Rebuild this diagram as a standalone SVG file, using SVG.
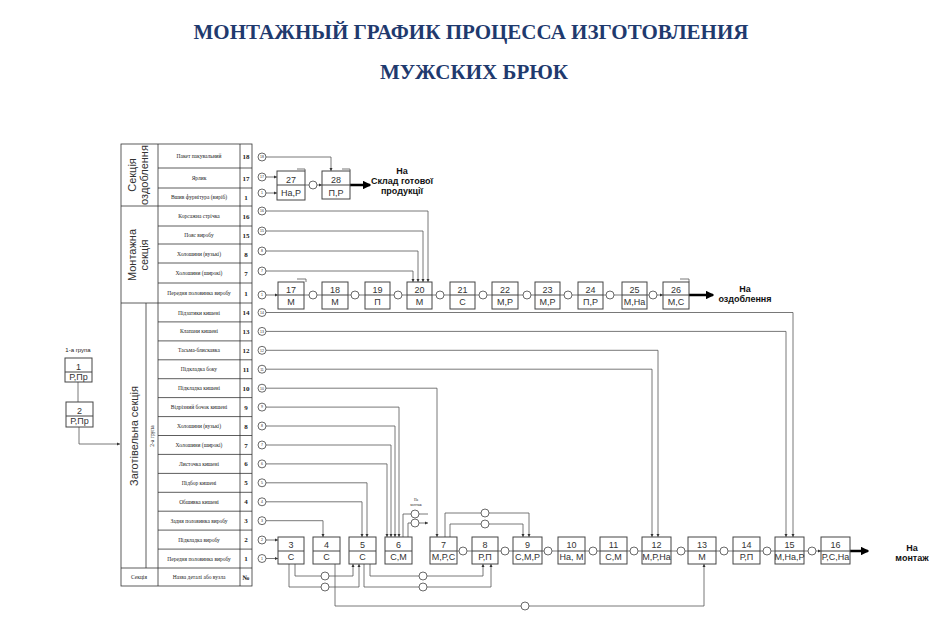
<svg xmlns="http://www.w3.org/2000/svg" width="935" height="629" viewBox="0 0 935 629">
<style>
.t{font-family:"Liberation Serif",serif;font-weight:bold;font-size:21px;fill:#1f3a6e;text-anchor:middle}
.cell{fill:none;stroke:#333;stroke-width:0.8}
.rt{font-family:"Liberation Serif",serif;font-size:5.5px;fill:#222;text-anchor:middle}
.rn{font-family:"Liberation Serif",serif;font-size:7px;font-weight:bold;fill:#222;text-anchor:middle}
.sec{font-family:"Liberation Sans",sans-serif;font-size:11px;fill:#333;text-anchor:middle}
.bx{fill:#fff;stroke:#444;stroke-width:1}
.bt{font-family:"Liberation Sans",sans-serif;font-size:9px;fill:#333;text-anchor:middle}
.c{fill:#fff;stroke:#444;stroke-width:0.8}
.ct{font-family:"Liberation Sans",sans-serif;font-size:3.5px;fill:#333;text-anchor:middle}
.ln{fill:none;stroke:#555;stroke-width:0.8}
.th{fill:none;stroke:#000;stroke-width:2.5}
.lbl{font-family:"Liberation Sans",sans-serif;font-size:9px;font-weight:bold;fill:#111;text-anchor:middle}
</style>
<defs>
<marker id="a" viewBox="0 0 6 6" refX="6" refY="3" markerWidth="4" markerHeight="4" orient="auto"><path d="M0,0L6,3L0,6z" fill="#333"/></marker>
<marker id="A" viewBox="0 0 6 6" refX="5" refY="3" markerWidth="3.5" markerHeight="3.5" orient="auto"><path d="M0,0L6,3L0,6z" fill="#000"/></marker>
</defs>
<rect width="935" height="629" fill="#fff"/>
<text class="t" x="471" y="39">МОНТАЖНЫЙ ГРАФИК ПРОЦЕССА ИЗГОТОВЛЕНИЯ</text>
<text class="t" x="474" y="79">МУЖСКИХ БРЮК</text>

<g id="table">
<rect class="cell" x="121" y="144" width="131" height="442"/>
<line class="cell" x1="158" y1="144" x2="158" y2="586"/>
<line class="cell" x1="240" y1="144" x2="240" y2="586"/>
<line class="cell" x1="121" y1="206" x2="158" y2="206"/>
<line class="cell" x1="121" y1="303" x2="158" y2="303"/>
<line class="cell" x1="146" y1="303" x2="146" y2="568"/>
<line class="cell" x1="121" y1="568" x2="252" y2="568"/>
<g class="cell">
<line x1="158" y1="168" x2="252" y2="168"/><line x1="158" y1="188" x2="252" y2="188"/><line x1="158" y1="206" x2="252" y2="206"/>
<line x1="158" y1="226" x2="252" y2="226"/><line x1="158" y1="244" x2="252" y2="244"/><line x1="158" y1="263" x2="252" y2="263"/><line x1="158" y1="283" x2="252" y2="283"/><line x1="158" y1="303" x2="252" y2="303"/>
<line x1="158" y1="321.9" x2="252" y2="321.9"/><line x1="158" y1="340.9" x2="252" y2="340.9"/><line x1="158" y1="359.8" x2="252" y2="359.8"/><line x1="158" y1="378.7" x2="252" y2="378.7"/><line x1="158" y1="397.6" x2="252" y2="397.6"/><line x1="158" y1="416.6" x2="252" y2="416.6"/><line x1="158" y1="435.5" x2="252" y2="435.5"/><line x1="158" y1="454.4" x2="252" y2="454.4"/><line x1="158" y1="473.4" x2="252" y2="473.4"/><line x1="158" y1="492.3" x2="252" y2="492.3"/><line x1="158" y1="511.2" x2="252" y2="511.2"/><line x1="158" y1="530.1" x2="252" y2="530.1"/><line x1="158" y1="549.1" x2="252" y2="549.1"/>
</g>
<text class="sec" transform="translate(136,175) rotate(-90)">Секція</text>
<text class="sec" transform="translate(148,175) rotate(-90)">оздоблення</text>
<text class="sec" transform="translate(136,255) rotate(-90)">Монтажна</text>
<text class="sec" transform="translate(148,255) rotate(-90)">секція</text>
<text class="sec" transform="translate(138,436) rotate(-90)">Заготівельна секція</text>
<text class="rt" transform="translate(154,436) rotate(-90)">2-а група</text>
<g class="rt">
<text x="199" y="158">Пакет пакувальний</text><text x="199" y="180">Ярлик</text><text x="199" y="199">Вшив фурнітура (виріб)</text>
<text x="199" y="218">Корсажна стрічка</text><text x="199" y="237">Пояс виробу</text><text x="199" y="256">Холошини (вузькі)</text><text x="199" y="275">Холошини (широкі)</text><text x="199" y="295">Передня половинка виробу</text>
<text x="199" y="314.5">Підзатики кишені</text><text x="199" y="333.4">Клапани кишені</text><text x="199" y="352.3">Тасьма-блискавка</text><text x="199" y="371.2">Підкладка боку</text><text x="199" y="390.2">Підкладка кишені</text><text x="199" y="409.1">Відрізний бочок кишені</text><text x="199" y="428">Холошини (вузькі)</text><text x="199" y="447">Холошини (широкі)</text><text x="199" y="465.9">Листочка кишені</text><text x="199" y="484.8">Підбор кишені</text><text x="199" y="503.8">Обшивка кишені</text><text x="199" y="522.7">Задня половинка виробу</text><text x="199" y="541.6">Підкладка виробу</text><text x="199" y="560.5">Передня половинка виробу</text>
<text x="139" y="579">Секція</text><text x="199" y="579">Назва деталі або вузла</text>
</g>
<g class="rn">
<text x="246" y="159">18</text><text x="246" y="181">17</text><text x="246" y="200">1</text>
<text x="246" y="219">16</text><text x="246" y="238">15</text><text x="246" y="257">8</text><text x="246" y="276">7</text><text x="246" y="296">1</text>
<text x="246" y="315">14</text><text x="246" y="334">13</text><text x="246" y="353">12</text><text x="246" y="372">11</text><text x="246" y="391">10</text><text x="246" y="410">9</text><text x="246" y="429">8</text><text x="246" y="448">7</text><text x="246" y="466">6</text><text x="246" y="485">5</text><text x="246" y="504">4</text><text x="246" y="523">3</text><text x="246" y="542">2</text><text x="246" y="561">1</text><text x="246" y="580">№</text>
</g>
</g>

<g id="connectors">
<path class="ln" d="M266,157H331V171" marker-end="url(#a)"/>
<path class="ln" d="M266,177H277" marker-end="url(#a)"/>
<path class="ln" d="M266,193H277" marker-end="url(#a)"/>
<path class="ln" d="M305,185H309M317,185H322" marker-end="url(#a)"/>
<path class="ln" d="M297,169H305V171"/>
<path class="ln" d="M342,169H350V171"/>
<path class="th" d="M350,185H370" marker-end="url(#A)"/>
<path class="ln" d="M266,211H428V282" marker-end="url(#a)"/>
<path class="ln" d="M266,231H423V282" marker-end="url(#a)"/>
<path class="ln" d="M266,251H418V282" marker-end="url(#a)"/>
<path class="ln" d="M266,271H413V282" marker-end="url(#a)"/>
<path class="ln" d="M266,295H278" marker-end="url(#a)"/>
<path class="ln" d="M297,279H306V282"/>
<path class="ln" d="M680,279H689V282"/>
<path class="ln" d="M304,295H309M317,295H322M348,295H351M359,295H365M390,295H394M402,295H407M432,295H436M444,295H450M475,295H479M487,295H492M518,295H523M531,295H535M560,295H564M572,295H578M603,295H606M614,295H622M647,295H649M657,295H663" marker-end="url(#a)"/>
<path class="th" d="M689,295H713" marker-end="url(#A)"/>
<path class="ln" d="M266,312.5H793V537" marker-end="url(#a)"/>
<path class="ln" d="M266,331.4H786V537" marker-end="url(#a)"/>
<path class="ln" d="M266,350.3H658V537" marker-end="url(#a)"/>
<path class="ln" d="M266,369.2H652V537" marker-end="url(#a)"/>
<path class="ln" d="M266,388.2H437V537" marker-end="url(#a)"/>
<path class="ln" d="M266,407.1H399V537" marker-end="url(#a)"/>
<path class="ln" d="M266,426H395V537" marker-end="url(#a)"/>
<path class="ln" d="M266,445H391V537" marker-end="url(#a)"/>
<path class="ln" d="M266,463.9H387V537" marker-end="url(#a)"/>
<path class="ln" d="M266,482.8H367V537" marker-end="url(#a)"/>
<path class="ln" d="M266,501.8H362V537" marker-end="url(#a)"/>
<path class="ln" d="M266,520.7H323V537" marker-end="url(#a)"/>
<path class="ln" d="M266,540H278" marker-end="url(#a)"/>
<path class="ln" d="M266,558.5H278" marker-end="url(#a)"/>
<path class="ln" d="M403,537V514H411M408,537V523H411"/>
<path class="ln" d="M419,514H428M419,523H428" marker-end="url(#a)"/>
<path class="ln" d="M445,537V513H481M489,513H529V537" marker-end="url(#a)"/>
<path class="ln" d="M450,537V524H481M489,524H523V537" marker-end="url(#a)"/>
<path class="ln" d="M457,551H459M467,551H472M498,551H501M509,551H513M542,551H544M552,551H558M585,551H589M597,551H600M627,551H630M638,551H642M671,551H677M685,551H688M716,551H720M728,551H733M760,551H763M771,551H775M804,551H808M816,551H821" marker-end="url(#a)"/>
<path class="th" d="M850,551H868" marker-end="url(#A)"/>
<path class="ln" d="M295,564V576H321M329,576H353V564" marker-end="url(#a)"/>
<path class="ln" d="M289,564V587H321M329,587H359V564" marker-end="url(#a)"/>
<path class="ln" d="M370,564V576H419M427,576H483V564" marker-end="url(#a)"/>
<path class="ln" d="M364,564V587H419M427,587H491V564" marker-end="url(#a)"/>
<path class="ln" d="M335,564V606H521M529,606H704V564" marker-end="url(#a)"/>
<path class="ln" d="M78,382V402"/>
<path class="ln" d="M79,427V444H120" marker-end="url(#a)"/>
</g>

<g id="circles">
<g class="c">
<circle cx="262" cy="157" r="4"/><circle cx="262" cy="177" r="4"/><circle cx="262" cy="193" r="4"/>
<circle cx="262" cy="211" r="4"/><circle cx="262" cy="231" r="4"/><circle cx="262" cy="251" r="4"/><circle cx="262" cy="271" r="4"/><circle cx="262" cy="295" r="4"/>
<circle cx="262" cy="312.5" r="4"/><circle cx="262" cy="331.4" r="4"/><circle cx="262" cy="350.3" r="4"/><circle cx="262" cy="369.2" r="4"/><circle cx="262" cy="388.2" r="4"/><circle cx="262" cy="407.1" r="4"/><circle cx="262" cy="426" r="4"/><circle cx="262" cy="445" r="4"/><circle cx="262" cy="463.9" r="4"/><circle cx="262" cy="482.8" r="4"/><circle cx="262" cy="501.8" r="4"/><circle cx="262" cy="520.7" r="4"/><circle cx="262" cy="540" r="4"/><circle cx="262" cy="558.5" r="4"/>
<circle cx="313" cy="185" r="4"/>
<circle cx="313" cy="295" r="4"/><circle cx="355" cy="295" r="4"/><circle cx="398" cy="295" r="4"/><circle cx="440" cy="295" r="4"/><circle cx="483" cy="295" r="4"/><circle cx="527" cy="295" r="4"/><circle cx="568" cy="295" r="4"/><circle cx="610" cy="295" r="4"/><circle cx="653" cy="295" r="4"/>
<circle cx="415" cy="514" r="4"/><circle cx="415" cy="523" r="4"/>
<circle cx="485" cy="513" r="4"/><circle cx="485" cy="524" r="4"/>
<circle cx="463" cy="551" r="4"/><circle cx="505" cy="551" r="4"/><circle cx="548" cy="551" r="4"/><circle cx="593" cy="551" r="4"/><circle cx="634" cy="551" r="4"/><circle cx="681" cy="551" r="4"/><circle cx="724" cy="551" r="4"/><circle cx="767" cy="551" r="4"/><circle cx="812" cy="551" r="4"/>
<circle cx="325" cy="576" r="4"/><circle cx="325" cy="587" r="4"/><circle cx="423" cy="576" r="4"/><circle cx="423" cy="587" r="4"/><circle cx="525" cy="606" r="4"/>
</g>
<g class="ct">
<text x="262" y="158.3">18</text><text x="262" y="178.3">17</text><text x="262" y="194.3">1</text>
<text x="262" y="212.3">16</text><text x="262" y="232.3">15</text><text x="262" y="252.3">8</text><text x="262" y="272.3">7</text><text x="262" y="296.3">1</text>
<text x="262" y="313.8">14</text><text x="262" y="332.7">13</text><text x="262" y="351.6">12</text><text x="262" y="370.5">11</text><text x="262" y="389.5">10</text><text x="262" y="408.4">9</text><text x="262" y="427.3">8</text><text x="262" y="446.3">7</text><text x="262" y="465.2">6</text><text x="262" y="484.1">5</text><text x="262" y="503.1">4</text><text x="262" y="522">3</text><text x="262" y="541.3">2</text><text x="262" y="559.8">1</text>
</g>
<text class="rt" x="416" y="501" style="font-size:3.5px">На</text>
<text class="rt" x="416" y="506" style="font-size:3.5px">монтаж</text>
</g>

<g id="n1"><rect class="bx" x="65" y="358" width="27" height="24"/><line class="bx" x1="65" y1="372" x2="92" y2="372"/><text class="bt" x="78.5" y="370">1</text><text class="bt" x="78.5" y="380">Р,Пр</text></g>
<g id="n2"><rect class="bx" x="66" y="402" width="27" height="25"/><line class="bx" x1="66" y1="416" x2="93" y2="416"/><text class="bt" x="79.5" y="414">2</text><text class="bt" x="79.5" y="424">Р,Пр</text></g>
<text class="rt" x="78" y="352" style="font-size:6px;font-family:'Liberation Sans',sans-serif">1-а група</text>

<g id="n27"><rect class="bx" x="277" y="171" width="28" height="29"/><line class="bx" x1="277" y1="185" x2="305" y2="185"/><text class="bt" x="291" y="183">27</text><text class="bt" x="291" y="196">На,Р</text></g>
<g id="n28"><rect class="bx" x="322" y="171" width="28" height="28"/><line class="bx" x1="322" y1="185" x2="350" y2="185"/><text class="bt" x="336" y="183">28</text><text class="bt" x="336" y="196">П,Р</text></g>
<text class="lbl" x="402" y="174">На</text><text class="lbl" x="402" y="184">Склад готової</text><text class="lbl" x="402" y="194">продукції</text>

<g id="n17"><rect class="bx" x="278" y="282" width="26" height="27"/><line class="bx" x1="278" y1="295" x2="304" y2="295"/><text class="bt" x="291" y="293">17</text><text class="bt" x="291" y="305">М</text></g>
<g id="n18"><rect class="bx" x="322" y="282" width="26" height="27"/><line class="bx" x1="322" y1="295" x2="348" y2="295"/><text class="bt" x="335" y="293">18</text><text class="bt" x="335" y="305">М</text></g>
<g id="n19"><rect class="bx" x="365" y="282" width="25" height="27"/><line class="bx" x1="365" y1="295" x2="390" y2="295"/><text class="bt" x="377.5" y="293">19</text><text class="bt" x="377.5" y="305">П</text></g>
<g id="n20"><rect class="bx" x="407" y="282" width="25" height="27"/><line class="bx" x1="407" y1="295" x2="432" y2="295"/><text class="bt" x="419.5" y="293">20</text><text class="bt" x="419.5" y="305">М</text></g>
<g id="n21"><rect class="bx" x="450" y="282" width="25" height="27"/><line class="bx" x1="450" y1="295" x2="475" y2="295"/><text class="bt" x="462.5" y="293">21</text><text class="bt" x="462.5" y="305">С</text></g>
<g id="n22"><rect class="bx" x="492" y="282" width="26" height="27"/><line class="bx" x1="492" y1="295" x2="518" y2="295"/><text class="bt" x="505" y="293">22</text><text class="bt" x="505" y="305">М,Р</text></g>
<g id="n23"><rect class="bx" x="535" y="282" width="25" height="27"/><line class="bx" x1="535" y1="295" x2="560" y2="295"/><text class="bt" x="547.5" y="293">23</text><text class="bt" x="547.5" y="305">М,Р</text></g>
<g id="n24"><rect class="bx" x="578" y="282" width="25" height="27"/><line class="bx" x1="578" y1="295" x2="603" y2="295"/><text class="bt" x="590.5" y="293">24</text><text class="bt" x="590.5" y="305">П,Р</text></g>
<g id="n25"><rect class="bx" x="622" y="282" width="25" height="27"/><line class="bx" x1="622" y1="295" x2="647" y2="295"/><text class="bt" x="634.5" y="293">25</text><text class="bt" x="634.5" y="305">М,На</text></g>
<g id="n26"><rect class="bx" x="663" y="282" width="26" height="27"/><line class="bx" x1="663" y1="295" x2="689" y2="295"/><text class="bt" x="676" y="293">26</text><text class="bt" x="676" y="305">М,С</text></g>
<text class="lbl" x="745" y="292">На</text><text class="lbl" x="745" y="302">оздоблення</text>

<g id="n3"><rect class="bx" x="278" y="537" width="26" height="27"/><line class="bx" x1="278" y1="551" x2="304" y2="551"/><text class="bt" x="291" y="548">3</text><text class="bt" x="291" y="560">С</text></g>
<g id="n4"><rect class="bx" x="313" y="537" width="27" height="27"/><line class="bx" x1="313" y1="551" x2="340" y2="551"/><text class="bt" x="326.5" y="548">4</text><text class="bt" x="326.5" y="560">С</text></g>
<g id="n5"><rect class="bx" x="349" y="537" width="27" height="27"/><line class="bx" x1="349" y1="551" x2="376" y2="551"/><text class="bt" x="362.5" y="548">5</text><text class="bt" x="362.5" y="560">С</text></g>
<g id="n6"><rect class="bx" x="385" y="537" width="27" height="27"/><line class="bx" x1="385" y1="551" x2="412" y2="551"/><text class="bt" x="398.5" y="548">6</text><text class="bt" x="398.5" y="560">С,М</text></g>
<g id="n7"><rect class="bx" x="430" y="537" width="27" height="27"/><line class="bx" x1="430" y1="551" x2="457" y2="551"/><text class="bt" x="443.5" y="548">7</text><text class="bt" x="443.5" y="560">М,Р,С</text></g>
<g id="n8"><rect class="bx" x="472" y="537" width="26" height="27"/><line class="bx" x1="472" y1="551" x2="498" y2="551"/><text class="bt" x="485" y="548">8</text><text class="bt" x="485" y="560">Р,П</text></g>
<g id="n9"><rect class="bx" x="513" y="537" width="29" height="27"/><line class="bx" x1="513" y1="551" x2="542" y2="551"/><text class="bt" x="527.5" y="548">9</text><text class="bt" x="527.5" y="560">С,М,Р</text></g>
<g id="n10"><rect class="bx" x="558" y="537" width="27" height="27"/><line class="bx" x1="558" y1="551" x2="585" y2="551"/><text class="bt" x="571.5" y="548">10</text><text class="bt" x="571.5" y="560">На, М</text></g>
<g id="n11"><rect class="bx" x="600" y="537" width="27" height="27"/><line class="bx" x1="600" y1="551" x2="627" y2="551"/><text class="bt" x="613.5" y="548">11</text><text class="bt" x="613.5" y="560">С,М</text></g>
<g id="n12"><rect class="bx" x="642" y="537" width="29" height="27"/><line class="bx" x1="642" y1="551" x2="671" y2="551"/><text class="bt" x="656.5" y="548">12</text><text class="bt" x="656.5" y="560">М,Р,На</text></g>
<g id="n13"><rect class="bx" x="688" y="537" width="28" height="27"/><line class="bx" x1="688" y1="551" x2="716" y2="551"/><text class="bt" x="702" y="548">13</text><text class="bt" x="702" y="560">М</text></g>
<g id="n14"><rect class="bx" x="733" y="537" width="27" height="27"/><line class="bx" x1="733" y1="551" x2="760" y2="551"/><text class="bt" x="746.5" y="548">14</text><text class="bt" x="746.5" y="560">Р,П</text></g>
<g id="n15"><rect class="bx" x="775" y="537" width="29" height="27"/><line class="bx" x1="775" y1="551" x2="804" y2="551"/><text class="bt" x="789.5" y="548">15</text><text class="bt" x="789.5" y="560">М,На,Р</text></g>
<g id="n16"><rect class="bx" x="821" y="537" width="29" height="27"/><line class="bx" x1="821" y1="551" x2="850" y2="551"/><text class="bt" x="835.5" y="548">16</text><text class="bt" x="835.5" y="560">Р,С,На</text></g>
<text class="lbl" x="912" y="551">На</text><text class="lbl" x="912" y="561">монтаж</text>
</svg>
